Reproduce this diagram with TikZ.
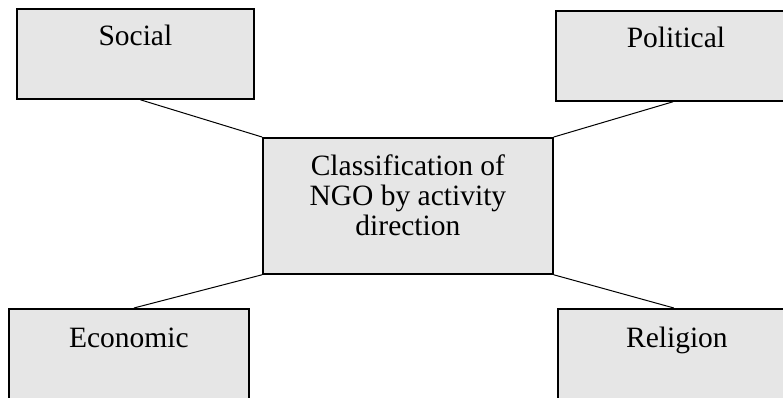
\documentclass[tikz,border=0pt]{standalone}
\usepackage{fontspec}
\setmainfont{Liberation Serif}
\begin{document}
\begin{tikzpicture}[x=1pt,y=1pt,
  box/.style={draw=black, line width=1.8pt, fill=boxgray, rectangle, inner sep=0pt, anchor=north west},
  lbl/.style={anchor=base, inner sep=0pt, font=\fontsize{29.5}{30}\selectfont, align=center},
  link/.style={draw=black, line width=1pt}]
\definecolor{boxgray}{RGB}{230,230,230}
\useasboundingbox (0,0) rectangle (783,-398);
\clip (0,0) rectangle (783,-398);
\node[box, minimum width=237pt, minimum height=90pt] (social) at (16,-8) {};
\node[box, minimum width=240pt, minimum height=90pt] (political) at (555,-10) {};
\node[box, minimum width=290pt, minimum height=136pt] (center) at (262,-137) {};
\node[box, minimum width=240pt, minimum height=100pt] (economic) at (8,-308) {};
\node[box, minimum width=238pt, minimum height=100pt] (religion) at (557,-308) {};
\node[lbl] (tsocial) at ([yshift=-38pt]social.north) {Social};
\node[lbl] (tpolitical) at ([yshift=-38pt]political.north) {Political};
\node[lbl] (teconomic) at ([yshift=-39pt]economic.north) {Economic};
\node[lbl] (treligion) at ([yshift=-39pt]religion.north) {Religion};
\node[lbl] (tcenter) at ([yshift=-98pt]center.north) {Classification of\\NGO by activity\\direction};
\draw[link] ([xshift=5pt]social.south) -- (center.north west);
\draw[link] ([xshift=-3pt]political.south) -- (center.north east);
\draw[link] ([xshift=5pt]economic.north) -- (center.south west);
\draw[link] ([xshift=-3pt]religion.north) -- (center.south east);
\end{tikzpicture}
\end{document}
